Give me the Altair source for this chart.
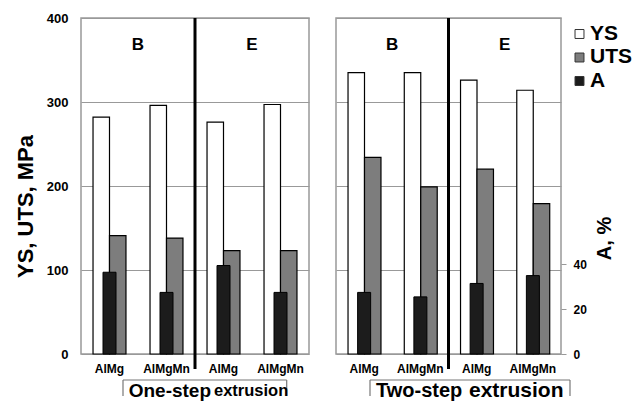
import altair as alt
import pandas as pd

FONT = "Liberation Sans"

groups = ["B|AlMg", "B|AlMgMn", "E|AlMg", "E|AlMgMn"]
metrics = ["YS", "UTS"]

# One-step extrusion
ys_one = [282, 296, 276, 297]
uts_one = [141, 138, 123, 123]
a_one = [36.5, 27.5, 39.5, 27.5]

# Two-step extrusion
ys_two = [335, 335, 326, 314]
uts_two = [234, 199, 220, 179]
a_two = [27.5, 25.5, 31.5, 35]

subgroups = ["B", "E"]
sub_anchor = ["B|AlMg", "E|AlMg"]
process_bold = ["One-step", "Two-step"]
process_rest = "extrusion"
legend_names = ["YS", "UTS", "A"]
legend_fill = ["#ffffff", "#7d7d7d", "#1c1c1c"]
mpa_ticks = [0, 100, 200, 300, 400]
a_ticks = [0, 20, 40]

H = 336


def xe(band=None):
    kw = {}
    if band is not None:
        kw["bandPosition"] = band
    return alt.X(
        "grp:N",
        sort=groups,
        scale=alt.Scale(domain=groups, paddingInner=0, paddingOuter=0),
        axis=alt.Axis(
            title=None,
            labelExpr="split(datum.value, '|')[1]",
            ticks=False,
            domain=False,
            labelAngle=0,
            labelPadding=9,
            labelFontSize=12,
            labelFontWeight="bold",
            labelFont=FONT,
            labelColor="black",
        ),
        **kw,
    )


def dummy():
    return pd.DataFrame({"d": [0]})


def panel(ys, uts, a, idx, width, box, texts, sizes):
    is_left = idx == 0
    df = pd.DataFrame({
        "grp": groups * 2,
        "metric": ["YS"] * 4 + ["UTS"] * 4,
        "value": ys + uts,
    })
    dfa = pd.DataFrame({"grp": groups, "A": a})

    if is_left:
        yaxis = alt.Axis(
            values=mpa_ticks, grid=True, ticks=False, domain=False,
            labelPadding=13, labelFontSize=13, labelFontWeight="bold",
            labelFont=FONT, labelColor="black", labelFlush=False,
            title="YS, UTS, MPa", titleFont=FONT, titleFontSize=22,
            titleFontWeight="bold", titleColor="black", titleAngle=270,
            titleX=-56, titleY=188, titleAlign="center", titleBaseline="middle",
        )
    else:
        yaxis = alt.Axis(values=mpa_ticks, grid=True, ticks=False, domain=False,
                         labels=False, title=None)

    bars = alt.Chart(df).mark_bar(stroke="black", strokeWidth=1.2).encode(
        x=xe(),
        xOffset=alt.XOffset("metric:N", sort=metrics,
                            scale=alt.Scale(domain=metrics, paddingInner=0, paddingOuter=0.73)),
        y=alt.Y("value:Q", scale=alt.Scale(domain=[0, 400]), axis=yaxis),
        fill=alt.Fill("metric:N", scale=alt.Scale(domain=legend_names, range=legend_fill),
                      legend=None),
    )

    if is_left:
        aaxis = None
    else:
        aaxis = alt.Axis(
            orient="right", values=a_ticks, grid=False, domain=False,
            tickColor="#999", tickSize=5, labelPadding=7, labelFontSize=12,
            labelFontWeight="bold", labelFont=FONT, labelColor="black", labelFlush=False,
            title="A, %", titleFont=FONT, titleFontSize=20, titleFontWeight="bold",
            titleColor="black", titleAngle=270, titleX=43, titleY=220,
            titleAlign="center", titleBaseline="middle",
        )
    abars = alt.Chart(dfa).mark_bar(size=13, fill="#1c1c1c", stroke="black", strokeWidth=1).encode(
        x=xe(),
        y=alt.Y("A:Q", scale=alt.Scale(domain=[0, 150]), axis=aaxis),
    )

    sep = alt.Chart(pd.DataFrame({"grp": ["E|AlMg"]})).mark_rule(
        color="black", strokeWidth=3
    ).encode(x=xe(0), y=alt.value(0), y2=alt.value(351))

    sub = alt.Chart(pd.DataFrame({"grp": sub_anchor, "label": subgroups})).mark_text(
        font=FONT, fontSize=17, fontWeight="bold", color="black", baseline="middle"
    ).encode(x=xe(1), y=alt.value(27), text="label:N")

    x0, x1 = box
    boxc = "#777777"
    top = alt.Chart(dummy()).mark_rule(color=boxc, strokeWidth=1.2).encode(
        x=alt.value(x0), x2=alt.value(x1), y=alt.value(362))
    lside = alt.Chart(dummy()).mark_rule(color=boxc, strokeWidth=1.2).encode(
        x=alt.value(x0), y=alt.value(362), y2=alt.value(378))
    rside = alt.Chart(dummy()).mark_rule(color=boxc, strokeWidth=1.2).encode(
        x=alt.value(x1), y=alt.value(362), y2=alt.value(378))
    t1x, t2x = texts
    s1, s2 = sizes
    t1 = alt.Chart(pd.DataFrame({"t": [process_bold[idx]]})).mark_text(
        font=FONT, fontSize=s1, fontWeight="bold", align="left", baseline="middle", color="black"
    ).encode(x=alt.value(t1x), y=alt.value(373), text="t:N")
    t2 = alt.Chart(pd.DataFrame({"t": [process_rest]})).mark_text(
        font=FONT, fontSize=s2, fontWeight="bold", align="left", baseline="middle", color="black"
    ).encode(x=alt.value(t2x), y=alt.value(373), text="t:N")

    layers = [bars, abars, sep, sub, top, lside, rside, t1, t2]

    if not is_left:
        ly = [16, 39.5, 63]
        for name, fillc, yy in zip(legend_names, legend_fill, ly):
            sq = alt.Chart(pd.DataFrame({"n": [name]})).mark_square(
                size=80, fill=fillc, fillOpacity=1, stroke="#333", strokeWidth=1
            ).encode(x=alt.value(243.5), y=alt.value(yy))
            tx = alt.Chart(pd.DataFrame({"n": [name]})).mark_text(
                font=FONT, fontSize=21, fontWeight="bold", align="left", baseline="middle",
                color="black"
            ).encode(x=alt.value(254), y=alt.value(yy - 0.5), text="n:N")
            layers += [sq, tx]

    return alt.layer(*layers).resolve_scale(y="independent").properties(width=width, height=H)


left = panel(ys_one, uts_one, a_one, 0, 228, (42, 205.7), (47.7, 133), (19, 16.5))
right = panel(ys_two, uts_two, a_two, 1, 225, (34, 234), (40, 133), (20, 21))

chart = alt.hconcat(left, right, spacing=25).properties(
    padding={"left": 5, "top": 3, "right": 0, "bottom": 0}
).configure_view(stroke="#999999", strokeWidth=1.5).configure_axis(
    gridColor="#999999", gridWidth=1
)

chart.save("out.html", embed_options={"renderer": "svg", "actions": False})
